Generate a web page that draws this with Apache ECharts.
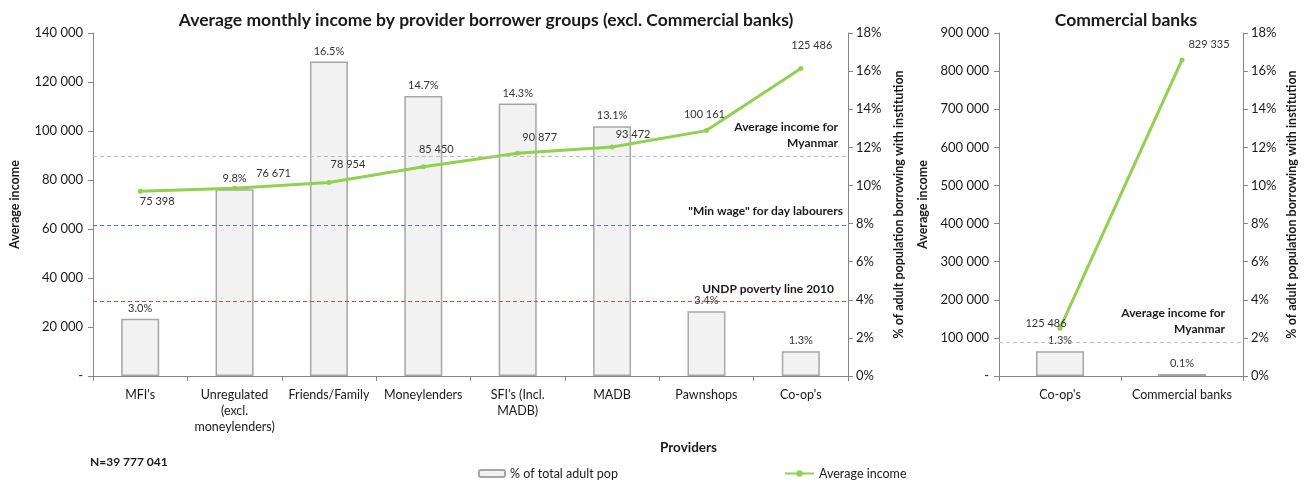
<!DOCTYPE html>
<html>
<head>
<meta charset="utf-8">
<script src="https://cdn.jsdelivr.net/npm/echarts@6/dist/echarts.min.js"></script>
<style>
  html, body { margin: 0; padding: 0; background: #fff; }
  #chart { width: 1306px; height: 481px; }
</style>
</head>
<body>
<div id="chart"></div>
<script>
// Provider groups (left panel)
const providers = ["MFI's", "Unregulated\n(excl.\nmoneylenders)", "Friends/Family", "Moneylenders", "SFI's (Incl.\nMADB)", "MADB", "Pawnshops", "Co-op's"];
const shareOfAdultPop = [3.0, 9.8, 16.5, 14.7, 14.3, 13.1, 3.4, 1.3];
const avgIncome = [75398, 76671, 78954, 85450, 90877, 93472, 100161, 125486];

// Commercial banks comparison (right panel)
const bankCategories = ["Co-op's", "Commercial banks"];
const bankShare = [1.3, 0.1];
const bankIncome = [125486, 829335];

// Income benchmarks
const benchmarkNames = ['Average income for\nMyanmar', '"Min wage" for day labourers', 'UNDP poverty line 2010'];
const benchmarkValues = [89800, 61500, 30600];

const sampleNote = 'N=39 777 041';

// label placement for the income points (pixel offsets from the point)
const incomeLabelOffsets = [[17, 10], [39, -15], [19, -18], [13, -17], [22, -16], [21, -13], [-2, -16], [11, -23]];
const bankLabelOffsets = [[-14, -5], [27, -15]];
const benchmarkColors = ['#bfbfbf', '#4a7ebb', '#c0504d'];

const FONT = 'Lato, "Open Sans", sans-serif';
const AXIS_COLOR = '#868686';
const TEXT = '#1a1a1a';

function spaced(v) {
  if (v === 0) return '-';
  return String(v).replace(/\B(?=(\d{3})+(?!\d))/g, ' ');
}

function incomeItems(values, offsets) {
  return values.map((v, i) => ({
    value: v,
    label: { position: 'inside', offset: offsets[i] }
  }));
}

function yIncomeAxis(gridIndex, max, interval, gap) {
  return {
    type: 'value', gridIndex, position: 'left', min: 0, max, interval,
    name: 'Average income', nameLocation: 'middle', nameGap: gap, nameRotate: 90,
    nameTextStyle: { fontFamily: FONT, fontWeight: 'bold', fontSize: 12.5, color: TEXT },
    axisLine: { show: true, lineStyle: { color: AXIS_COLOR } },
    axisTick: { show: true, length: 5, lineStyle: { color: AXIS_COLOR } },
    axisLabel: { fontFamily: FONT, fontSize: 13, color: TEXT, margin: 10, formatter: spaced },
    splitLine: { show: false }
  };
}

function yPctAxis(gridIndex, gap) {
  return {
    type: 'value', gridIndex, position: 'right', min: 0, max: 18, interval: 2,
    name: '% of adult population borrowing with institution', nameLocation: 'middle',
    nameGap: gap, nameRotate: 90,
    nameTextStyle: { fontFamily: FONT, fontWeight: 'bold', fontSize: 12.5, color: TEXT },
    axisLine: { show: true, lineStyle: { color: AXIS_COLOR } },
    axisTick: { show: true, length: 5, lineStyle: { color: AXIS_COLOR } },
    axisLabel: { fontFamily: FONT, fontSize: 13, color: TEXT, margin: 8, formatter: v => v + '%' },
    splitLine: { show: false }
  };
}

function xCatAxis(gridIndex, data) {
  return {
    type: 'category', gridIndex, data,
    axisLine: { lineStyle: { color: AXIS_COLOR } },
    axisTick: { show: true, length: 5, lineStyle: { color: AXIS_COLOR } },
    axisLabel: { interval: 0, fontFamily: FONT, fontSize: 12.5, color: TEXT, margin: 11, lineHeight: 16 }
  };
}

const barStyle = { color: '#f2f2f2', borderColor: '#a6a6a6', borderWidth: 1.5 };
const barLabel = {
  show: true, position: 'top', distance: 5, fontFamily: FONT, fontSize: 11, color: '#333',
  formatter: p => p.value.toFixed(1) + '%'
};
const lineLabel = { show: true, fontFamily: FONT, fontSize: 11, color: '#333', formatter: p => spaced(p.value) };

// one carrier series per dashed benchmark line, so each keeps its own colour
function benchmarkSeries(i, xAxisIndex, yAxisIndex, distance) {
  return {
    name: 'benchmark-' + i, type: 'line', xAxisIndex, yAxisIndex, data: [], silent: true,
    markLine: {
      silent: true, symbol: 'none',
      lineStyle: { color: benchmarkColors[i], type: [4, 3], width: 1 },
      label: {
        show: true, position: 'insideEndTop', formatter: '{b}', distance,
        fontFamily: FONT, fontWeight: 'bold', fontSize: 12, color: TEXT, align: 'right', lineHeight: 16
      },
      data: [{ name: benchmarkNames[i], yAxis: benchmarkValues[i] }]
    },
    z: 1
  };
}

const chart = echarts.init(document.getElementById('chart'), null, { renderer: 'canvas' });

chart.setOption({
  animation: false,
  backgroundColor: '#fff',
  title: [
    { text: 'Average monthly income by provider borrower groups (excl. Commercial banks)',
      left: 481, top: 6, textAlign: 'center',
      textStyle: { fontFamily: FONT, fontWeight: 'bold', fontSize: 17.5, color: TEXT } },
    { text: 'Commercial banks', left: 1121, top: 6, textAlign: 'center',
      textStyle: { fontFamily: FONT, fontWeight: 'bold', fontSize: 17.5, color: TEXT } }
  ],
  legend: [
    { data: ['% of total adult pop'], left: 473, top: 462, itemWidth: 26, itemHeight: 7,
      textStyle: { fontFamily: FONT, fontSize: 12.5, color: TEXT } },
    { data: ['Average income'], left: 779, top: 462, itemWidth: 29, itemHeight: 8,
      textStyle: { fontFamily: FONT, fontSize: 12.5, color: TEXT } }
  ],
  grid: [
    { left: 93, right: 458, top: 33, bottom: 105 },
    { left: 999, right: 63, top: 33, bottom: 105 }
  ],
  xAxis: [xCatAxis(0, providers), xCatAxis(1, bankCategories)],
  yAxis: [
    yIncomeAxis(0, 140000, 20000, 72),
    yPctAxis(0, 42),
    yIncomeAxis(1, 900000, 100000, 70),
    yPctAxis(1, 42)
  ],
  graphic: [
    { type: 'text', left: 660, top: 441,
      style: { text: 'Providers', font: 'bold 13.5px ' + FONT, fill: TEXT } },
    { type: 'text', left: 90, top: 456,
      style: { text: sampleNote, font: 'bold 12px ' + FONT, fill: TEXT } }
  ],
  series: [
    benchmarkSeries(0, 0, 0, [10, 5]),
    benchmarkSeries(1, 0, 0, [5, 6]),
    benchmarkSeries(2, 0, 0, [14, 4]),
    benchmarkSeries(0, 1, 2, [18, 5]),
    { name: '% of total adult pop', type: 'bar', xAxisIndex: 0, yAxisIndex: 1,
      data: shareOfAdultPop, barWidth: 38, itemStyle: barStyle, label: barLabel, z: 2 },
    { name: 'Average income', type: 'line', xAxisIndex: 0, yAxisIndex: 0,
      data: incomeItems(avgIncome, incomeLabelOffsets),
      symbol: 'circle', symbolSize: 5, color: '#92d050',
      lineStyle: { width: 3, color: '#92d050' }, itemStyle: { color: '#92d050' },
      label: lineLabel, z: 4 },
    { name: '% of total adult pop', type: 'bar', xAxisIndex: 1, yAxisIndex: 3,
      data: bankShare, barWidth: 48, itemStyle: barStyle, label: barLabel, z: 2 },
    { name: 'Average income', type: 'line', xAxisIndex: 1, yAxisIndex: 2,
      data: incomeItems(bankIncome, bankLabelOffsets),
      symbol: 'circle', symbolSize: 5, color: '#92d050',
      lineStyle: { width: 3, color: '#92d050' }, itemStyle: { color: '#92d050' },
      label: lineLabel, z: 4 }
  ]
});
</script>
</body>
</html>
